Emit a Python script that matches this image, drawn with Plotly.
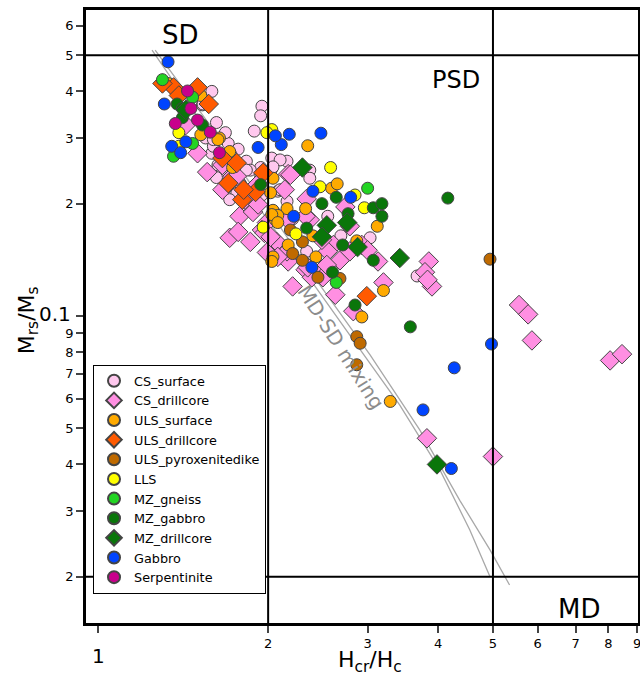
import math
import plotly.graph_objects as go

# ---------------- data (Hcr/Hc, Mrs/Ms) ----------------
cs_surface_x = [1.59, 1.53, 1.62, 1.95, 1.94, 1.89, 1.70, 1.77, 1.59, 1.66, 1.83, 1.94, 1.66, 1.75, 1.86,
                1.63, 1.66, 1.73, 1.83, 1.94, 1.81, 1.81, 1.88, 1.76, 2.03, 2.16, 2.37, 2.37, 2.08, 2.16,
                2.55, 2.69, 3.03, 2.03, 2.34, 3.67, 1.55, 1.68, 1.72, 1.79, 1.60, 1.92, 1.71, 1.62,
                1.534, 1.60, 1.66, 2.10, 2.04, 1.73, 1.78, 1.87, 1.95, 1.95, 1.86, 2.21, 2.10]
cs_surface_y = [0.400, 0.368, 0.330, 0.365, 0.344, 0.313, 0.290, 0.280, 0.273, 0.260, 0.260, 0.250, 0.246, 0.246, 0.246,
                0.254, 0.242, 0.228, 0.246, 0.236, 0.209, 0.190, 0.200, 0.213, 0.265, 0.260, 0.246, 0.234, 0.216, 0.203,
                0.185, 0.164, 0.162, 0.248, 0.149, 0.128, 0.300, 0.310, 0.270, 0.225, 0.285, 0.222, 0.205, 0.235,
                0.370, 0.297, 0.265, 0.262, 0.251, 0.251, 0.228, 0.216, 0.233, 0.211, 0.196, 0.182, 0.218]

cs_drill_x = [1.50, 1.56, 1.43, 1.78, 1.88, 1.71, 1.77, 1.86, 1.99, 2.04, 2.17, 2.14, 2.34, 2.74, 2.79,
              2.37, 2.61, 2.93, 2.04, 2.10, 2.17, 2.33, 2.39, 2.52, 2.55, 2.68, 2.79, 3.00, 3.13, 3.20,
              2.63, 2.21, 2.83, 3.85, 3.79, 3.90, 3.83, 5.56, 5.77, 5.86, 8.06, 8.46, 3.82, 5.00,
              1.73, 1.66, 1.82, 1.92, 1.95,
              1.66, 1.76, 1.91, 1.97, 2.08, 2.19, 2.17, 2.33, 2.49, 2.07, 2.16, 2.08, 1.99, 2.35, 2.50, 2.54, 2.02]
cs_drill_y = [0.273, 0.243, 0.325, 0.185, 0.190, 0.162, 0.168, 0.158, 0.178, 0.152, 0.240, 0.218, 0.206, 0.196, 0.174,
              0.181, 0.155, 0.155, 0.149, 0.146, 0.140, 0.133, 0.127, 0.133, 0.149, 0.141, 0.149, 0.150, 0.140, 0.123,
              0.114, 0.120, 0.103, 0.140, 0.131, 0.120, 0.125, 0.107, 0.101, 0.086, 0.076, 0.079, 0.047, 0.042,
              0.237, 0.218, 0.205, 0.199, 0.170,
              0.254, 0.237, 0.2245, 0.167, 0.184, 0.239, 0.181, 0.185, 0.160, 0.158, 0.149, 0.144, 0.148, 0.135, 0.127, 0.137, 0.163]

uls_surface_x = [1.33, 1.52, 1.64, 1.71, 1.52, 1.73, 1.91, 2.06, 2.04, 2.04, 2.35, 2.59, 2.65, 3.12, 2.87,
                 2.40, 2.16, 2.08, 2.04, 2.33, 2.17, 2.43, 3.20, 2.93, 2.03, 3.29,
                 1.63, 2.02, 2.03, 2.08]
uls_surface_y = [0.420, 0.390, 0.300, 0.276, 0.306, 0.250, 0.215, 0.181, 0.144, 0.192, 0.286, 0.220, 0.226, 0.174, 0.159,
                 0.164, 0.194, 0.186, 0.234, 0.194, 0.155, 0.144, 0.117, 0.0994, 0.140, 0.059,
                 0.297, 0.214, 0.187, 0.178]

uls_drill_x = [1.36, 1.39, 1.50, 1.57, 1.70, 1.80, 1.90, 1.66, 1.76, 2.99, 1.30, 1.96, 1.81]
uls_drill_y = [0.410, 0.390, 0.410, 0.370, 0.227, 0.205, 0.215, 0.265, 0.257, 0.113, 0.420, 0.242, 0.218]

uls_pyx_x = [2.21, 2.30, 2.30, 2.45, 2.68, 2.87, 2.91, 2.87, 4.94, 2.19]
uls_pyx_y = [0.147, 0.141, 0.158, 0.127, 0.126, 0.088, 0.0845, 0.074, 0.142, 0.170]

lls_x = [1.39, 1.39, 2.03, 1.99, 2.58, 2.47, 2.85, 2.96, 2.24, 1.96]
lls_y = [0.310, 0.285, 0.316, 0.310, 0.250, 0.222, 0.211, 0.195, 0.166, 0.173]

mz_gneiss_x = [1.30, 1.47, 1.47, 1.36, 3.00, 2.64]
mz_gneiss_y = [0.430, 0.386, 0.290, 0.268, 0.220, 0.123]

mz_gabbro_x = [1.38, 1.41, 1.41, 1.53, 1.94, 2.49, 2.64, 2.77, 3.07, 3.18, 3.18, 2.34, 2.71, 3.07, 2.60,
               2.85, 3.57, 4.16]
mz_gabbro_y = [0.370, 0.360, 0.340, 0.325, 0.225, 0.200, 0.208, 0.188, 0.195, 0.200, 0.185, 0.172, 0.155, 0.141, 0.131,
               0.107, 0.0935, 0.207]

mz_drill_x = [2.30, 2.76, 2.54, 2.49, 3.42, 2.88, 3.98, 1.43]
mz_drill_y = [0.250, 0.178, 0.175, 0.163, 0.143, 0.153, 0.040, 0.357]

gabbro_x = [1.33, 1.31, 1.35, 1.43, 1.40, 1.92, 2.18, 2.48, 2.11, 2.40, 2.80, 2.22, 2.39, 4.27, 4.97, 3.76, 4.22, 2.06]
gabbro_y = [0.480, 0.370, 0.285, 0.293, 0.274, 0.283, 0.307, 0.309, 0.288, 0.216, 0.208, 0.185, 0.135, 0.0726, 0.0841, 0.056, 0.039, 0.304]

serp_x = [1.44, 1.46, 1.37, 1.58, 1.64, 1.50]
serp_y = [0.401, 0.360, 0.328, 0.311, 0.274, 0.335]

# SD-MD mixing curves
mix1_x = [1.246, 1.515, 1.858, 2.28, 2.79, 3.42, 4.03, 4.55, 4.94]
mix1_y = [0.516, 0.335, 0.211, 0.137, 0.0889, 0.0577, 0.0386, 0.0267, 0.0200]
mix2_x = [1.262, 1.578, 1.975, 2.47, 3.03, 3.71, 4.37, 4.94, 5.35]
mix2_y = [0.516, 0.325, 0.1985, 0.121, 0.0786, 0.0495, 0.032, 0.0236, 0.019]

# domain boundaries
hcr_bounds = [2, 5]
mrs_bounds = [0.5, 0.02]

x_ticks = [1, 2, 3, 4, 5, 6, 7, 8, 9]
x_ticktext = [" ", "2", "3", "4", "5", "6", "7", "8", "9"]
y_ticks = [0.02, 0.03, 0.04, 0.05, 0.06, 0.07, 0.08, 0.09, 0.1, 0.2, 0.3, 0.4, 0.5, 0.6]
y_ticktext = ["2", "3", "4", "5", "6", "7", "8", "9", " ", "2", "3", "4", "5", "6"]

XR = [0.952, 9.03]
YR = [0.01503, 0.661]

series = [
    ("CS_surface", cs_surface_x, cs_surface_y, "circle", "#ffc8ee", 12),
    ("CS_drillcore", cs_drill_x, cs_drill_y, "diamond", "#ff8fe2", 15),
    ("ULS_surface", uls_surface_x, uls_surface_y, "circle", "#ffaa00", 12),
    ("ULS_drillcore", uls_drill_x, uls_drill_y, "diamond", "#ff5a00", 15),
    ("ULS_pyroxenitedike", uls_pyx_x, uls_pyx_y, "circle", "#bf6a00", 12),
    ("LLS", lls_x, lls_y, "circle", "#ffff00", 12),
    ("MZ_gneiss", mz_gneiss_x, mz_gneiss_y, "circle", "#22d422", 12),
    ("MZ_gabbro", mz_gabbro_x, mz_gabbro_y, "circle", "#0a760a", 12),
    ("MZ_drillcore", mz_drill_x, mz_drill_y, "diamond", "#0a760a", 15),
    ("Gabbro", gabbro_x, gabbro_y, "circle", "#0044ff", 12),
    ("Serpentinite", serp_x, serp_y, "circle", "#c8008c", 12),
]

fig = go.Figure()

fig.add_trace(go.Scatter(x=mix1_x, y=mix1_y, mode="lines", line=dict(color="#a8a8a8", width=1.3),
                         showlegend=False, hoverinfo="skip"))
fig.add_trace(go.Scatter(x=mix2_x, y=mix2_y, mode="lines", line=dict(color="#a8a8a8", width=1.3),
                         showlegend=False, hoverinfo="skip"))

for name, xs, ys, sym, col, sz in series:
    fig.add_trace(go.Scatter(
        x=xs, y=ys, mode="markers", name=name,
        marker=dict(symbol=sym, color=col, size=sz, line=dict(color="#444444", width=1)),
    ))

for xb in hcr_bounds:
    fig.add_trace(go.Scatter(x=[xb, xb], y=[0.001, 10], mode="lines", line=dict(color="black", width=2),
                             showlegend=False, hoverinfo="skip"))
for yb in mrs_bounds:
    fig.add_trace(go.Scatter(x=[0.5, 20], y=[yb, yb], mode="lines", line=dict(color="black", width=2),
                             showlegend=False, hoverinfo="skip"))

font_family = "DejaVu Sans"

fig.update_layout(
    width=640, height=679,
    margin=dict(l=86, r=2, t=10, b=56, autoexpand=False),
    paper_bgcolor="white", plot_bgcolor="white",
    font=dict(family=font_family, color="black"),
    showlegend=True,
    legend=dict(x=0.0127, y=0.421, xanchor="left", yanchor="top",
                bgcolor="white", bordercolor="black", borderwidth=1,
                font=dict(size=12.8, family=font_family), tracegroupgap=0,
                itemsizing="constant"),
    xaxis=dict(type="log", range=[math.log10(XR[0]), math.log10(XR[1])], automargin=False,
               showgrid=False, zeroline=False, showline=True, mirror=True,
               linecolor="black", linewidth=2.5, ticks="outside", ticklen=7, tickwidth=1.5,
               tickvals=x_ticks, ticktext=x_ticktext, tickfont=dict(size=13),
               ticklabeloverflow="allow"),
    yaxis=dict(type="log", range=[math.log10(YR[0]), math.log10(YR[1])], automargin=False,
               showgrid=False, zeroline=False, showline=True, mirror=True,
               linecolor="black", linewidth=2.5, ticks="outside", ticklen=7, tickwidth=1.5,
               tickvals=y_ticks, ticktext=y_ticktext, tickfont=dict(size=13)),
)

annotations = [
    dict(text="SD", x=math.log10(1.4), y=math.log10(0.565), xref="x", yref="y",
         showarrow=False, font=dict(size=26)),
    dict(text="PSD", x=math.log10(4.3), y=math.log10(0.43), xref="x", yref="y",
         showarrow=False, font=dict(size=24)),
    dict(text="MD", x=math.log10(7.1), y=math.log10(0.0164), xref="x", yref="y",
         showarrow=False, font=dict(size=26)),
    dict(text="MD-SD mixing", x=math.log10(2.69), y=math.log10(0.0826), xref="x", yref="y",
         showarrow=False, textangle=57.5, font=dict(size=20, color="#8c8c8c")),
    dict(text="1", x=0, y=-0.054, xref="x", yref="paper", xanchor="center", yanchor="middle",
         showarrow=False, font=dict(size=20)),
    dict(text="0.1", x=-0.024, y=math.log10(0.1015), xref="paper", yref="y", xanchor="right", yanchor="middle",
         showarrow=False, font=dict(size=20)),
    dict(text="M<sub>rs</sub>/M<sub>s</sub>", x=-0.105, y=0.494, xref="paper", yref="paper",
         xanchor="center", yanchor="middle",
         showarrow=False, textangle=-90, font=dict(size=22)),
    dict(text="H<sub>cr</sub>/H<sub>c</sub>", x=0.514, y=-0.062, xref="paper", yref="paper",
         xanchor="center", yanchor="middle",
         showarrow=False, font=dict(size=22)),
]
fig.update_layout(annotations=annotations)

fig.write_html("out.html", config={"displayModeBar": False},
               post_script="document.body.style.margin='0';document.body.style.overflow='hidden';")
